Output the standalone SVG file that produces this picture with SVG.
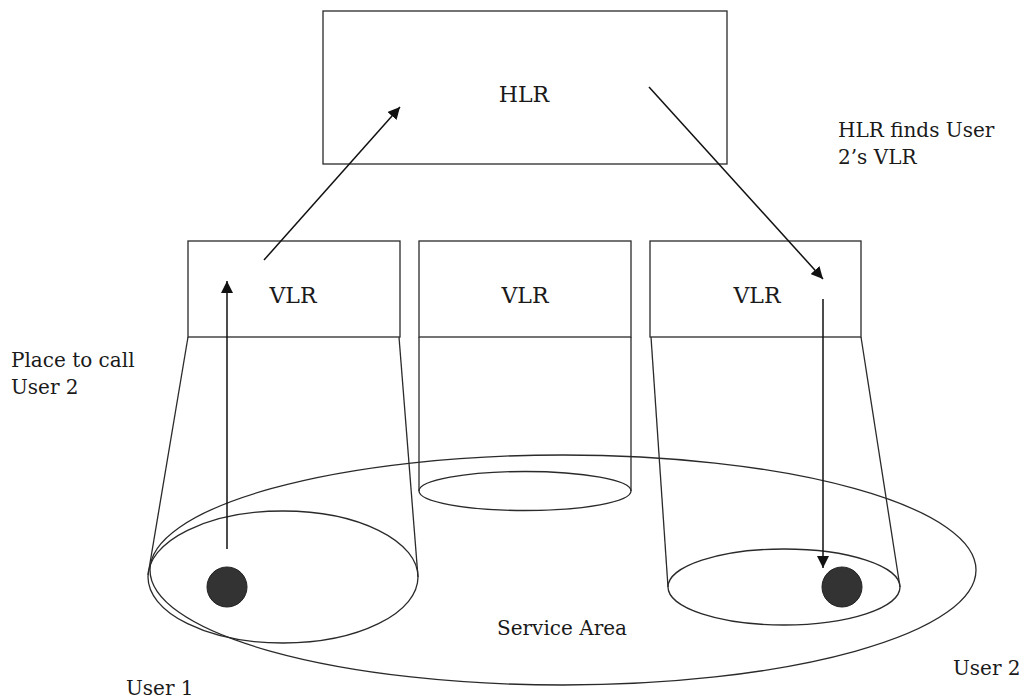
<svg xmlns="http://www.w3.org/2000/svg" width="1022" height="698" viewBox="0 0 1022 698">
<style>
.ln{fill:none;stroke:#2a2a2a;stroke-width:1.3}
.t{font-family:"DejaVu Serif","Liberation Serif",serif;font-size:20px;fill:#1a1a1a}
.c{text-anchor:middle}
.big{font-size:22px}
.ar{fill:none;stroke:#111;stroke-width:1.5;marker-end:url(#ah)}
</style>
<defs>
<marker id="ah" viewBox="0 0 12 12" refX="12" refY="6" markerWidth="12" markerHeight="12" markerUnits="userSpaceOnUse" orient="auto">
<path d="M0,0 L12,6 L0,12 z" fill="#111"/>
</marker>
</defs>
<rect width="1022" height="698" fill="#fff"/>
<g id="service-area">
<ellipse class="ln" cx="563" cy="570" rx="413" ry="115"/>
<text class="t c" x="562" y="635">Service Area</text>
</g>
<g id="hlr">
<rect class="ln" x="323" y="11" width="404" height="153"/>
<text class="t c big" x="524" y="102">HLR</text>
</g>
<g id="vlr-left">
<rect class="ln" x="188" y="241" width="212" height="96"/>
<text class="t c big" x="293" y="303">VLR</text>
<line class="ln" x1="188" y1="337" x2="148" y2="575"/>
<line class="ln" x1="399" y1="337" x2="418" y2="577"/>
<ellipse class="ln" cx="283" cy="577" rx="135" ry="66"/>
</g>
<g id="vlr-middle">
<rect class="ln" x="419" y="241" width="212" height="96"/>
<text class="t c big" x="525" y="303">VLR</text>
<line class="ln" x1="419" y1="337" x2="419" y2="491"/>
<line class="ln" x1="631" y1="337" x2="631" y2="491"/>
<ellipse class="ln" cx="525" cy="491" rx="106" ry="19.5"/>
</g>
<g id="vlr-right">
<rect class="ln" x="650" y="241" width="211" height="96"/>
<text class="t c big" x="757" y="303">VLR</text>
<line class="ln" x1="651" y1="337" x2="668" y2="587"/>
<line class="ln" x1="861" y1="337" x2="900" y2="587"/>
<ellipse class="ln" cx="784" cy="587" rx="116" ry="38"/>
</g>
<g id="user1">
<circle cx="227" cy="587" r="20" fill="#333" stroke="#222" stroke-width="1"/>
<text class="t" x="126" y="695">User 1</text>
</g>
<g id="user2">
<circle cx="842" cy="587" r="20" fill="#333" stroke="#222" stroke-width="1"/>
<text class="t" x="953" y="675">User 2</text>
</g>
<g id="connectors">
<line class="ar" x1="227" y1="549" x2="227" y2="281"/>
<line class="ar" x1="264" y1="260" x2="400" y2="107"/>
<line class="ar" x1="649" y1="87" x2="823" y2="279"/>
<line class="ar" x1="823" y1="299" x2="823" y2="568"/>
</g>
<g id="labels">
<text class="t" x="11" y="367">Place to call</text>
<text class="t" x="11" y="394">User 2</text>
<text class="t" x="838" y="137">HLR finds User</text>
<text class="t" x="838" y="164">2’s VLR</text>
</g>
</svg>
